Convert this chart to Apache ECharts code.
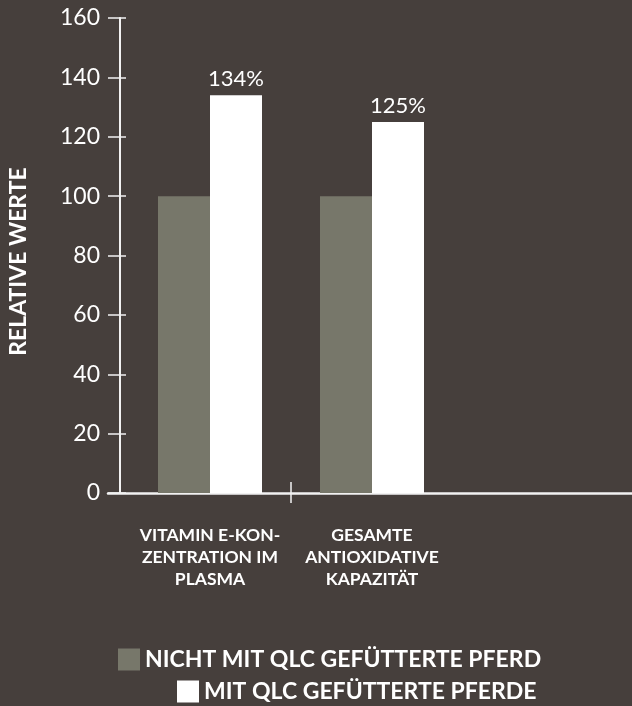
<!DOCTYPE html>
<html>
<head>
<meta charset="utf-8">
<script src="https://cdn.jsdelivr.net/npm/echarts@6/dist/echarts.min.js"></script>
<style>
html,body{margin:0;padding:0;background:#463f3c;}
#c{width:632px;height:706px;}
</style>
</head>
<body>
<div id="c"></div>
<script>
const categories = ['VITAMIN E-KON-\nZENTRATION IM\nPLASMA', 'GESAMTE\nANTIOXIDATIVE\nKAPAZITÄT'];
const seriesNames = ['NICHT MIT QLC GEFÜTTERTE PFERD', 'MIT QLC GEFÜTTERTE PFERDE'];
const nichtQLC = [100, 100];
const mitQLC = [134, 125];
const yTicks = {min: 0, max: 160, interval: 20};
const yTitle = 'RELATIVE WERTE';

const FONT = 'Lato, "Open Sans", sans-serif';
const LINE = '#f2f2f2';

const chart = echarts.init(document.getElementById('c'), null, {renderer: 'canvas'});
chart.setOption({
  backgroundColor: '#463f3c',
  animation: false,
  textStyle: {fontFamily: FONT},
  grid: [
    {left: 129, width: 324, top: 18, bottom: 213, containLabel: false, outerBoundsMode: 'none'},
    {left: 108, right: 0, top: 18, bottom: 213, containLabel: false, outerBoundsMode: 'none'}
  ],
  xAxis: [
    {
      type: 'category', gridIndex: 0, position: 'bottom', data: categories,
      axisLine: {show: false}, axisTick: {show: false},
      axisLabel: {color: '#ffffff', fontFamily: FONT, fontWeight: 'bold', fontSize: 17.5, lineHeight: 22, margin: 31, interval: 0, align: 'center'}
    },
    {
      type: 'category', gridIndex: 0, position: 'bottom', boundaryGap: false, data: ['', '', ''],
      axisLine: {show: false}, axisLabel: {show: false},
      axisTick: {show: true, length: 10, interval: function (i) { return i === 1; }, lineStyle: {color: LINE, width: 1.5}}
    },
    {
      type: 'category', gridIndex: 0, position: 'bottom', boundaryGap: false, data: ['', '', ''],
      axisLine: {show: false}, axisLabel: {show: false},
      axisTick: {show: true, inside: true, length: 11, interval: function (i) { return i === 1; }, lineStyle: {color: LINE, width: 1.5}}
    },
    {
      type: 'value', gridIndex: 1, position: 'bottom', min: 0, max: 1,
      axisLine: {show: true, lineStyle: {color: LINE, width: 2.5}},
      axisTick: {show: false}, axisLabel: {show: false}, splitLine: {show: false}
    }
  ],
  yAxis: [
    {
      type: 'value', gridIndex: 0, position: 'left', min: yTicks.min, max: yTicks.max, interval: yTicks.interval, offset: 9,
      axisLine: {show: true, lineStyle: {color: LINE, width: 2}},
      axisTick: {show: true, length: 12, lineStyle: {color: LINE, width: 1.5}},
      axisLabel: {color: '#ffffff', fontFamily: FONT, fontSize: 23, margin: 20},
      splitLine: {show: false},
      name: yTitle, nameLocation: 'middle', nameGap: 90,
      nameTextStyle: {color: '#ffffff', fontFamily: FONT, fontWeight: 'bold', fontSize: 23, padding: [0, 12, 0, 0]}
    },
    {
      type: 'value', gridIndex: 0, position: 'left', min: yTicks.min, max: yTicks.max, interval: yTicks.interval, offset: 9,
      axisLine: {show: false}, axisLabel: {show: false}, splitLine: {show: false},
      axisTick: {show: true, inside: true, length: 6, lineStyle: {color: LINE, width: 1.5}}
    },
    {
      type: 'value', gridIndex: 1, show: false
    }
  ],
  legend: [
    {
      data: [seriesNames[0]], left: 113, top: 643, itemWidth: 22, itemHeight: 22, icon: 'rect',
      textStyle: {color: '#ffffff', fontFamily: FONT, fontWeight: 'bold', fontSize: 23}
    },
    {
      data: [seriesNames[1]], left: 172, top: 675, itemWidth: 22, itemHeight: 22, icon: 'rect',
      textStyle: {color: '#ffffff', fontFamily: FONT, fontWeight: 'bold', fontSize: 23}
    }
  ],
  series: [
    {
      name: seriesNames[0], type: 'bar', xAxisIndex: 0, yAxisIndex: 0, data: nichtQLC,
      barWidth: 52, barGap: '0%', itemStyle: {color: '#77776a'}
    },
    {
      name: seriesNames[1], type: 'bar', xAxisIndex: 0, yAxisIndex: 0, data: mitQLC,
      barWidth: 52, barGap: '0%', itemStyle: {color: '#ffffff'},
      label: {show: true, position: 'top', distance: 5, formatter: '{c}%', color: '#ffffff', fontFamily: FONT, fontWeight: 'normal', fontSize: 22}
    }
  ]
});
</script>
</body>
</html>
